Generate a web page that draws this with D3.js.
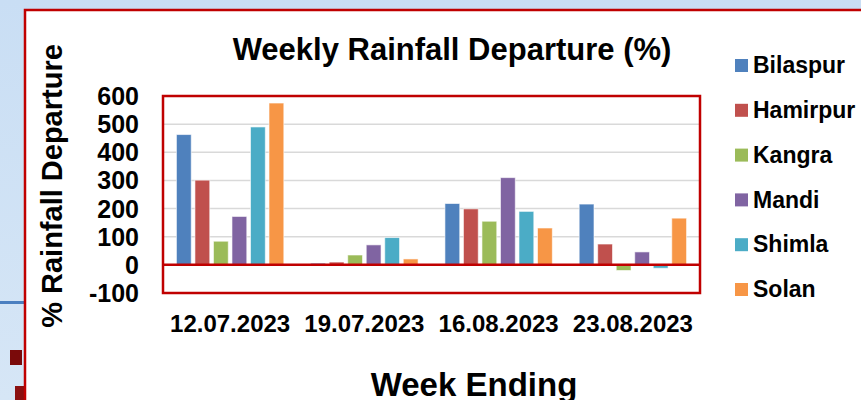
<!DOCTYPE html>
<html>
<head>
<meta charset="utf-8">
<script src="https://cdn.jsdelivr.net/npm/d3@7"></script>
<style>
  body { margin: 0; padding: 0; }
  svg { display: block; font-family: Arial, "Liberation Sans", sans-serif; font-weight: bold; }
</style>
</head>
<body>
<svg width="861" height="400"></svg>
<script>
// data
const weeks = ['12.07.2023', '19.07.2023', '16.08.2023', '23.08.2023'];
const districts = ['Bilaspur', 'Hamirpur', 'Kangra', 'Mandi', 'Shimla', 'Solan'];
const colors = ['#4F81BD', '#C0504D', '#9BBB59', '#8064A2', '#4BACC6', '#F79646'];
const bilaspur = [463, 6, 218, 216];
const hamirpur = [301, 10, 199, 74];
const kangra = [84, 35, 155, -20];
const mandi = [172, 71, 310, 46];
const shimla = [490, 97, 190, -12];
const solan = [575, 21, 131, 166];
const yTicks = [-100, 0, 100, 200, 300, 400, 500, 600];

const series = [bilaspur, hamirpur, kangra, mandi, shimla, solan];

const svg = d3.select("svg"),
  width = +svg.attr("width"),
  height = +svg.attr("height");

// background behind the chart frame
const grad = svg.append("defs").append("linearGradient")
  .attr("id", "bg").attr("x1", 0).attr("y1", 0).attr("x2", 0).attr("y2", 1);
grad.append("stop").attr("offset", "0%").attr("stop-color", "#c9def4");
grad.append("stop").attr("offset", "100%").attr("stop-color", "#d6e6f6");
svg.append("rect").attr("width", width).attr("height", height).attr("fill", "url(#bg)");
svg.append("rect").attr("x", 0).attr("y", 301).attr("width", 25).attr("height", 3).attr("fill", "#4a7fc0");
svg.append("rect").attr("x", 10).attr("y", 350).attr("width", 12).attr("height", 15).attr("fill", "#7a0a0a");
svg.append("rect").attr("x", 15).attr("y", 386).attr("width", 9).attr("height", 14).attr("fill", "#8a1010");

// chart frame
svg.append("rect")
  .attr("x", 25).attr("y", 10)
  .attr("width", width + 10).attr("height", height + 10)
  .attr("fill", "#ffffff")
  .attr("stroke", "#c00000")
  .attr("stroke-width", 2.5);

const plot = {left: 163, right: 700, top: 96, bottom: 293};

const x0 = d3.scaleBand()
  .domain(weeks)
  .range([plot.left, plot.right])
  .paddingInner(0.2)
  .paddingOuter(0.1);

const x1 = d3.scaleBand()
  .domain(districts)
  .range([0, x0.bandwidth()])
  .paddingInner(0.2);

const y = d3.scaleLinear()
  .domain([-100, 600])
  .range([plot.bottom, plot.top]);

// gridlines
svg.append("g")
  .selectAll("line")
  .data(yTicks.filter(d => d > 0))
  .join("line")
    .attr("x1", plot.left).attr("x2", plot.right)
    .attr("y1", d => y(d)).attr("y2", d => y(d))
    .attr("stroke", "#d9d9d9")
    .attr("stroke-width", 1.5);

// bars
const groups = svg.append("g")
  .selectAll("g")
  .data(weeks)
  .join("g")
    .attr("transform", d => `translate(${x0(d)},0)`);

groups.selectAll("rect")
  .data((w, i) => districts.map((name, j) => ({name: name, value: series[j][i], color: colors[j]})))
  .join("rect")
    .attr("x", d => x1(d.name))
    .attr("width", x1.bandwidth())
    .attr("y", d => y(Math.max(0, d.value)))
    .attr("height", d => Math.abs(y(d.value) - y(0)))
    .attr("fill", d => d.color)
    .attr("stroke", "#ffffff")
    .attr("stroke-opacity", 0.6)
    .attr("stroke-width", 1);

// zero line and plot border
svg.append("line")
  .attr("x1", plot.left).attr("x2", plot.right)
  .attr("y1", y(0)).attr("y2", y(0))
  .attr("stroke", "#c00000")
  .attr("stroke-width", 2.5);

svg.append("rect")
  .attr("x", plot.left).attr("y", plot.top)
  .attr("width", plot.right - plot.left).attr("height", plot.bottom - plot.top)
  .attr("fill", "none")
  .attr("stroke", "#c00000")
  .attr("stroke-width", 2.5);

// y tick labels
svg.append("g")
  .selectAll("text")
  .data(yTicks)
  .join("text")
    .attr("x", 139)
    .attr("y", d => y(d))
    .attr("dy", "0.36em")
    .attr("text-anchor", "end")
    .style("font-size", "25px")
    .text(d => d);

// x labels
svg.append("g")
  .selectAll("text")
  .data(weeks)
  .join("text")
    .attr("x", d => x0(d) + x0.bandwidth() / 2)
    .attr("y", 332)
    .attr("text-anchor", "middle")
    .style("font-size", "24px")
    .text(d => d);

// titles
svg.append("text")
  .attr("x", 452).attr("y", 60)
  .attr("text-anchor", "middle")
  .style("font-size", "31px")
  .text("Weekly Rainfall Departure (%)");

svg.append("text")
  .attr("x", 474).attr("y", 396)
  .attr("text-anchor", "middle")
  .style("font-size", "33px")
  .text("Week Ending");

svg.append("text")
  .attr("transform", "translate(62,186) rotate(-90)")
  .attr("text-anchor", "middle")
  .style("font-size", "29px")
  .text("% Rainfall Departure");

// legend
const legend = svg.append("g")
  .attr("transform", "translate(735,65)");

const legendItem = legend.selectAll("g")
  .data(districts)
  .join("g")
    .attr("transform", (d, i) => `translate(0,${i * 44.8})`);

legendItem.append("rect")
  .attr("x", 0).attr("y", -6)
  .attr("width", 13).attr("height", 13)
  .attr("fill", (d, i) => colors[i]);

legendItem.append("text")
  .attr("x", 18).attr("y", 0)
  .attr("dy", "0.36em")
  .style("font-size", "23px")
  .text(d => d);
</script>
</body>
</html>
